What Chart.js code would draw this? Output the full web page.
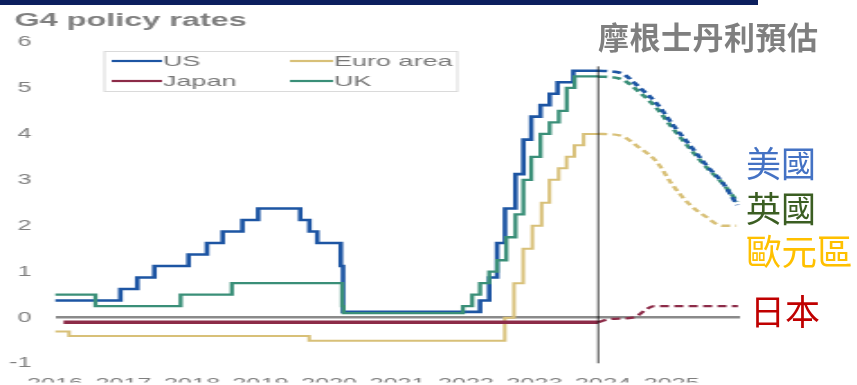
<!DOCTYPE html>
<html>
<head>
<meta charset="utf-8">
<script src="https://cdn.jsdelivr.net/npm/chart.js@4.4.1/dist/chart.umd.min.js"></script>
<style>
  body { margin: 0; background: #fff; }
  #wrap { position: relative; width: 857px; height: 385px; overflow: hidden; background: #fff; }
  #band { position: absolute; left: 0; top: 0; width: 758px; height: 5px; background: #0c1f5e; }
  .tag { position: absolute; font-family: "Noto Sans CJK TC", "Noto Sans CJK SC", sans-serif; line-height: 1; white-space: nowrap; }
</style>
</head>
<body>
<div id="wrap">
  <!-- the source chart was stretched sideways, so the canvas is drawn narrow and widened by inline css -->
  <canvas id="chart" width="476" height="385" style="position:absolute; left:0; top:0; width:857px; height:385px;"></canvas>
  <div id="band"></div>
  <div class="tag" style="left:598px; top:20px; font-size:31px; font-weight:700; color:#7f7f7f; letter-spacing:0.5px;">摩根士丹利預估</div>
  <div class="tag" style="left:746px; top:144px; font-size:35px; color:#4472c4;">美國</div>
  <div class="tag" style="left:746px; top:189px; font-size:35px; color:#3b5e22;">英國</div>
  <div class="tag" style="left:746px; top:232px; font-size:35.5px; color:#ffc000;">歐元區</div>
  <div class="tag" style="left:750px; top:292px; font-size:35px; color:#c00000;">日本</div>
</div>
<script>
// ---- data ----
const titleText = 'G4 policy rates';
const yearTicks = [2016, 2017, 2018, 2019, 2020, 2021, 2022, 2023, 2024, 2025];
const nowYear = 2023.93;       // where the forecast starts (vertical line)
const nowLineTop = 5.47;

// US fed funds (mid of target range)
const usDates = ['2016-01-01','2016-12-15','2017-03-16','2017-06-15','2017-12-14','2018-03-22','2018-06-14','2018-09-27','2018-12-20',
  '2019-08-01','2019-09-19','2019-10-31','2020-03-04','2020-03-16',
  '2022-03-17','2022-05-05','2022-06-16','2022-07-28','2022-09-22','2022-11-03','2022-12-15','2023-02-02','2023-03-23','2023-05-04','2023-07-27'];
const usRates = [0.375,0.625,0.875,1.125,1.375,1.625,1.875,2.125,2.375,
  2.125,1.875,1.625,1.125,0.125,
  0.375,0.875,1.625,2.375,3.125,3.875,4.375,4.625,4.875,5.125,5.375];

// UK bank rate
const ukDates = ['2016-01-01','2016-08-04','2017-11-02','2018-08-02','2020-03-11','2020-03-19',
  '2021-12-16','2022-02-03','2022-03-17','2022-05-05','2022-06-16','2022-08-04','2022-09-22','2022-11-03','2022-12-15',
  '2023-02-02','2023-03-23','2023-05-11','2023-06-22','2023-08-03'];
const ukRates = [0.5,0.25,0.5,0.75,0.25,0.1,
  0.25,0.5,0.75,1.0,1.25,1.75,2.25,3.0,3.5,
  4.0,4.25,4.5,5.0,5.25];

// Euro area deposit rate
const euDates = ['2016-01-01','2016-03-16','2019-09-18','2022-07-27','2022-09-14','2022-11-02','2022-12-21',
  '2023-02-08','2023-03-22','2023-05-10','2023-06-21','2023-08-02','2023-09-20'];
const euRates = [-0.3,-0.4,-0.5,0,0.75,1.5,2.0,2.5,3.0,3.25,3.5,3.75,4.0];

// Japan
const jpDates = ['2016-02-16'];
const jpRates = [-0.1];

// Morgan Stanley forecasts
const usFcYears = [nowYear, 2024.25, 2024.54, 2024.79, 2025.02, 2025.27, 2025.52, 2025.75, 2025.96];
const usFcRates = [5.375, 5.33, 5.0, 4.65, 4.2, 3.75, 3.3, 2.93, 2.45];
const ukFcYears = [nowYear, 2024.25, 2024.54, 2024.79, 2025.02, 2025.27, 2025.52, 2025.75, 2025.96];
const ukFcRates = [5.25, 5.2, 4.9, 4.55, 4.12, 3.68, 3.26, 2.92, 2.52];
const euFcYears = [nowYear, 2024.24, 2024.53, 2024.78, 2025.01, 2025.26, 2025.5, 2025.74, 2025.95];
const euFcRates = [4.0, 3.97, 3.7, 3.4, 2.9, 2.47, 2.2, 2.0, 2.0];
const jpFcYears = [nowYear, 2024.1, 2024.43, 2024.75, 2025.97];
const jpFcRates = [-0.1, -0.03, 0.0, 0.25, 0.25];

const colUS = '#1d55a3';
const colUK = '#3a8f78';
const colEU = '#d8c078';
const colJP = '#8c2b48';

// ---- helpers ----
function decYear(s) {
    const d = new Date(s + 'T00:00:00Z');
    const y = d.getUTCFullYear();
    return y + (d - Date.UTC(y, 0, 1)) / (365.25 * 864e5);
}
function history(dates, rates) {
    const pts = dates.map((d, i) => ({ x: decYear(d), y: rates[i] }));
    pts.push({ x: nowYear, y: rates[rates.length - 1] }); // hold last value to the now line
    return pts;
}
function forecast(years, rates) {
    return years.map((x, i) => ({ x: x, y: rates[i] }));
}

function histSet(label, data, color, width, legendPos) {
    return { label: label, data: data, borderColor: color, borderWidth: width, stepped: true,
             pointRadius: 0, fill: false, legendPos: legendPos };
}
function fcSet(data, color, width) {
    return { data: data, borderColor: color, borderWidth: width, borderDash: [5, 3],
             cubicInterpolationMode: 'monotone', pointRadius: 0, fill: false };
}

// first dataset is painted last (on top)
const datasets = [
    { data: [{ x: nowYear, y: -1 }, { x: nowYear, y: nowLineTop }], borderColor: '#000', borderWidth: 0.75, pointRadius: 0 },
    histSet('Japan', history(jpDates, jpRates), colJP, 3.5, [0, 1]),
    histSet('UK', history(ukDates, ukRates), colUK, 2.3, [1, 1]),
    histSet('US', history(usDates, usRates), colUS, 2.6, [0, 0]),
    histSet('Euro area', history(euDates, euRates), colEU, 2, [1, 0]),
    fcSet(forecast(jpFcYears, jpFcRates), colJP, 2.2),
    fcSet(forecast(usFcYears, usFcRates), colUS, 2.6),
    fcSet(forecast(ukFcYears, ukFcRates), colUK, 2.6),
    fcSet(forecast(euFcYears, euFcRates), colEU, 2.4)
];
const legendOrder = ['US', 'Euro area', 'Japan', 'UK'];

// title + boxed legend, like the original excel chart
const overlay = {
    id: 'overlay',
    afterDraw(chart) {
        const ctx = chart.ctx;
        ctx.save();
        ctx.font = 'bold 18px "Liberation Sans", Arial, sans-serif';
        ctx.fillStyle = '#7f7f7f';
        ctx.textBaseline = 'alphabetic';
        ctx.fillText(titleText, 8, 26);

        ctx.strokeStyle = '#dadada';
        ctx.lineWidth = 1;
        ctx.strokeRect(58, 51.5, 196, 40);

        ctx.font = '15px "Liberation Sans", Arial, sans-serif';
        ctx.textBaseline = 'middle';
        legendOrder.forEach(name => {
            const ds = chart.data.datasets.find(d => d.label === name);
            const x0 = ds.legendPos[0] ? 161 : 62;
            const len = ds.legendPos[0] ? 24 : 28;
            const y = ds.legendPos[1] ? 81 : 61;
            ctx.strokeStyle = ds.borderColor;
            ctx.lineWidth = 2.2;
            ctx.beginPath();
            ctx.moveTo(x0, y);
            ctx.lineTo(x0 + len, y);
            ctx.stroke();
            ctx.fillStyle = '#777';
            ctx.fillText(ds.label, x0 + len + 0.5, y + 1);
        });
        ctx.restore();
    }
};

const tickFont = { family: '"Liberation Sans", Arial, sans-serif', size: 14 };

new Chart(document.getElementById('chart'), {
    type: 'line',
    data: { datasets: datasets },
    options: {
        responsive: false,
        animation: false,
        devicePixelRatio: 1,
        layout: { padding: { top: 42, right: 65, left: 0, bottom: 0 } },
        plugins: { legend: { display: false }, tooltip: { enabled: false }, title: { display: false } },
        scales: {
            x: {
                type: 'linear',
                min: 2016,
                max: 2026,
                afterBuildTicks: scale => { scale.ticks = yearTicks.concat([2026]).map(v => ({ value: v })); },
                ticks: { font: tickFont, color: '#7f7f7f', padding: 4, autoSkip: false, maxRotation: 0,
                         callback: v => (yearTicks.includes(v) ? String(v) : '') },
                grid: { display: false },
                border: { display: false },
                afterFit: scale => { scale.height = 19; }
            },
            y: {
                min: -1,
                max: 6,
                ticks: { stepSize: 1, font: tickFont, color: '#7f7f7f', padding: 13 },
                grid: {
                    drawTicks: false,
                    color: c => (c.tick && c.tick.value === 0 ? '#8a8a8a' : 'rgba(0,0,0,0)'),
                    lineWidth: c => (c.tick && c.tick.value === 0 ? 2.5 : 0)
                },
                border: { display: false },
                afterFit: scale => { scale.width = 30.5; }
            }
        }
    },
    plugins: [overlay]
});
</script>
</body>
</html>
